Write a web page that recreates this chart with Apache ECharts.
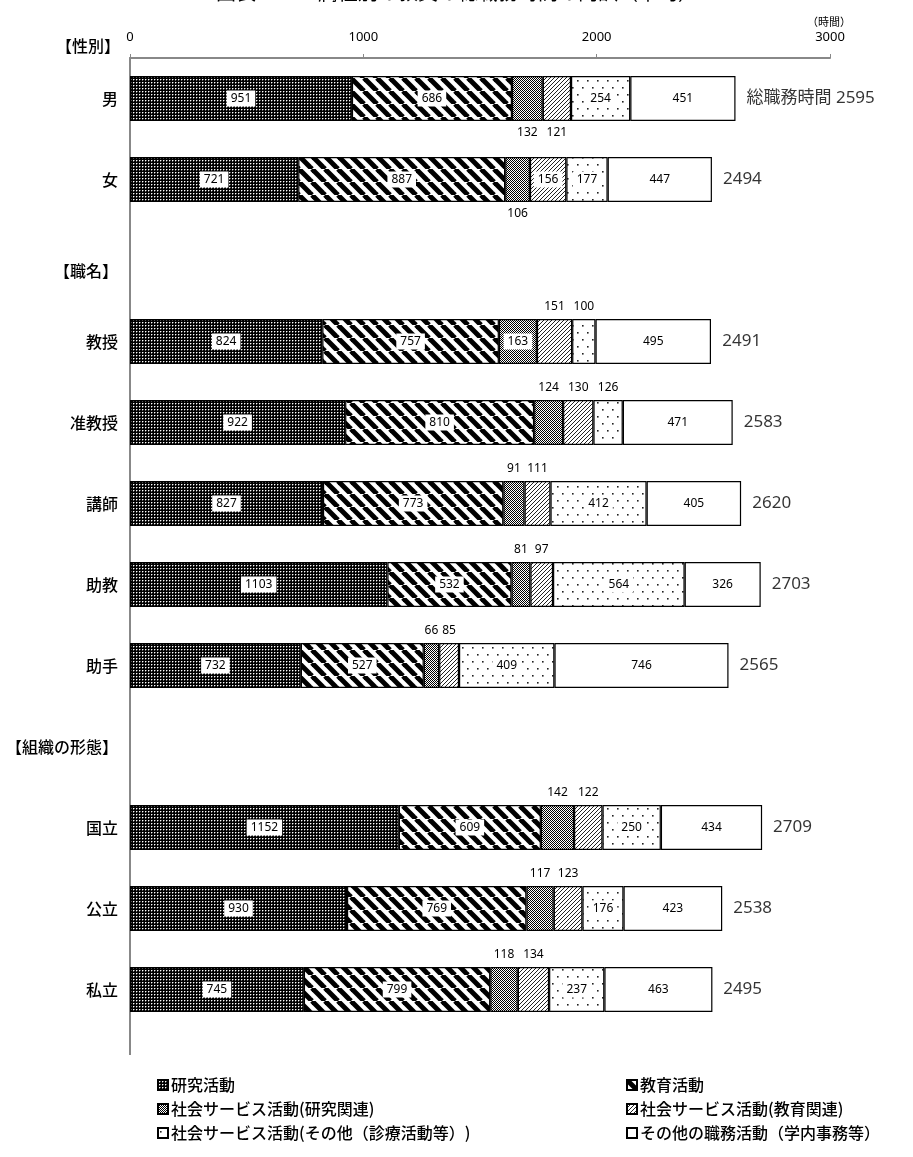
<!DOCTYPE html>
<html><head><meta charset="utf-8">
<script src="https://cdn.jsdelivr.net/npm/echarts@6/dist/echarts.min.js"></script>
<style>html,body{margin:0;padding:0;background:#fff}#c{width:913px;height:1157px}</style>
</head><body><div id="c"></div><script>
// ---- data ----
const categories = ['男','女','【職名】','教授','准教授','講師','助教','助手','【組織の形態】','国立','公立','私立'];
const seriesNames = ['研究活動','教育活動','社会サービス活動(研究関連)','社会サービス活動(教育関連)','社会サービス活動(その他（診療活動等）)','その他の職務活動（学内事務等）'];
const research        = [951, 721, null, 824, 922, 827, 1103, 732, null, 1152, 930, 745];
const education       = [686, 887, null, 757, 810, 773, 532, 527, null, 609, 769, 799];
const socialResearch  = [132, 106, null, 163, 124, 91, 81, 66, null, 142, 117, 118];
const socialEducation = [121, 156, null, 151, 130, 111, 97, 85, null, 122, 123, 134];
const socialOther     = [254, 177, null, 100, 126, 412, 564, 409, null, 250, 176, 237];
const otherDuties     = [451, 447, null, 495, 471, 405, 326, 746, null, 434, 423, 463];
const totals          = [2595, 2494, null, 2491, 2583, 2620, 2703, 2565, null, 2709, 2538, 2495];
const totalPrefix = '総職務時間 ';
const xMin = 0, xMax = 3000, xInterval = 1000;

// ---- patterns ----
function tile(w, h, draw) {
  const c = document.createElement('canvas'); c.width = w; c.height = h;
  const g = c.getContext('2d'); draw(g, w, h); return { image: c, repeat: 'repeat' };
}
const patResearch = tile(3, 3, (g) => {
  g.fillStyle = '#000'; g.fillRect(0,0,3,3);
  g.fillStyle = '#fff'; g.fillRect(1,1,1,1);
  g.fillStyle = '#666'; g.fillRect(2,1,1,1); g.fillRect(1,2,1,1);
});
const patEducation = tile(13, 13, (g, w) => {
  g.fillStyle = '#fff'; g.fillRect(0,0,w,w); g.strokeStyle = '#000'; g.lineWidth = 5;
  for (let k = -1; k <= 1; k++) { g.beginPath(); g.moveTo(k*w, 0); g.lineTo(k*w + w, w); g.stroke(); }
});
const patChecker = tile(2, 2, (g) => { g.fillStyle = '#fff'; g.fillRect(0,0,2,2); g.fillStyle = '#000'; g.fillRect(0,0,1,1); g.fillRect(1,1,1,1); });
const patThin = tile(4, 4, (g, w) => {
  g.fillStyle = '#fff'; g.fillRect(0,0,w,w); g.strokeStyle = '#222'; g.lineWidth = 1;
  for (let k = -1; k <= 1; k++) { g.beginPath(); g.moveTo(k*w, w); g.lineTo(k*w + w, 0); g.stroke(); }
});
const patDots = tile(10, 14, (g) => {
  g.fillStyle = '#fff'; g.fillRect(0,0,10,14); g.fillStyle = '#222';
  g.fillRect(2,3,1.6,1.6); g.fillRect(7,10,1.6,1.6);
});
const fills = [patResearch, patEducation, patChecker, patThin, patDots, '#fff'];
const seriesData = [research, education, socialResearch, socialEducation, socialOther, otherDuties];

const numFont = '"Noto Sans", "Noto Sans CJK JP", sans-serif';
const cjkFont = '"Noto Sans CJK JP", sans-serif';

function barSeries(si) {
  return {
    name: seriesNames[si], type: 'bar', stack: 'total', barWidth: 45,
    itemStyle: { color: fills[si], borderColor: '#000', borderWidth: 1.2 },
    emphasis: { disabled: true },
    data: seriesData[si].map((v, i) => {
      if (v == null) return '-';
      const outside = v < 155;
      return {
        value: v,
        label: outside ? {
          show: true, position: i < 2 ? 'bottom' : 'top', distance: 6,
          color: '#000', fontSize: 12, fontFamily: numFont
        } : {
          show: true, position: 'inside', color: '#000', fontSize: 12, fontFamily: numFont,
          backgroundColor: '#fff', padding: [2, 4]
        }
      };
    })
  };
}

const series = seriesData.map((_, si) => barSeries(si));
series.push({
  type: 'scatter', symbolSize: 0, silent: true,
  data: totals.map((v, i) => v == null ? null : [v, categories[i]]).filter(d => d),
  label: {
    show: true, position: 'right', distance: 11, color: '#000', fontSize: 17, fontFamily: numFont,
    formatter: (p) => (p.dataIndex === 0 ? totalPrefix : '') + p.value[0]
  }
});

const legendPos = [[152, 1072], [621, 1072], [152, 1096], [621, 1096], [152, 1120], [621, 1120]];
const legends = seriesNames.map((n, i) => ({
  data: [n], left: legendPos[i][0], top: legendPos[i][1], icon: 'rect',
  itemWidth: 10, itemHeight: 10, selectedMode: false,
  textStyle: { fontSize: 16, color: '#000', fontWeight: 500, fontFamily: cjkFont, padding: [0, 0, 0, -2] }
}));

const chart = echarts.init(document.getElementById('c'), null, { renderer: 'canvas' });
chart.setOption({
  animation: false,
  backgroundColor: '#fff',
  textStyle: { fontFamily: cjkFont },
  grid: { left: 130, right: 83, top: 58, height: 972 },
  xAxis: {
    type: 'value', position: 'top', min: xMin, max: xMax, interval: xInterval,
    axisLine: { show: true, lineStyle: { color: '#888', width: 2 } },
    axisTick: { show: true, length: 4, lineStyle: { color: '#888' } },
    axisLabel: { fontSize: 13, color: '#000', margin: 14, fontFamily: numFont, formatter: (v) => String(v) },
    splitLine: { show: false }
  },
  yAxis: {
    type: 'category', data: categories, inverse: true,
    axisLine: { show: true, lineStyle: { color: '#888', width: 2 } },
    axisTick: { show: false },
    axisLabel: {
      fontSize: 16, color: '#000', fontWeight: 500, margin: 12, fontFamily: cjkFont,
      formatter: (v) => v === '【職名】' ? '{s|' + v + '}' : v,
      rich: { s: { fontSize: 16, color: '#000', fontWeight: 500, padding: [20, 0, 0, 0], fontFamily: cjkFont } }
    }
  },
  legend: legends,
  graphic: [
    { type: 'text', x: 457, y: -8, style: { text: '図表3－1　属性別の教員の総職務時間の内訳（平均）', fill: '#000', font: '20px "Noto Sans CJK JP"', textAlign: 'center', textVerticalAlign: 'middle' } },
    { type: 'text', x: 120, y: 46, style: { text: '【性別】', fill: '#000', font: '500 16px "Noto Sans CJK JP"', textAlign: 'right', textVerticalAlign: 'middle' } },
    { type: 'text', x: 829, y: 22, style: { text: '（時間）', fill: '#000', font: '11px "Noto Sans CJK JP"', textAlign: 'center', textVerticalAlign: 'middle' } },
    { type: 'line', shape: { x1: 130, y1: 1030, x2: 130, y2: 1055 }, style: { stroke: '#888', lineWidth: 2 } }
  ],
  series: series
});
</script></body></html>
